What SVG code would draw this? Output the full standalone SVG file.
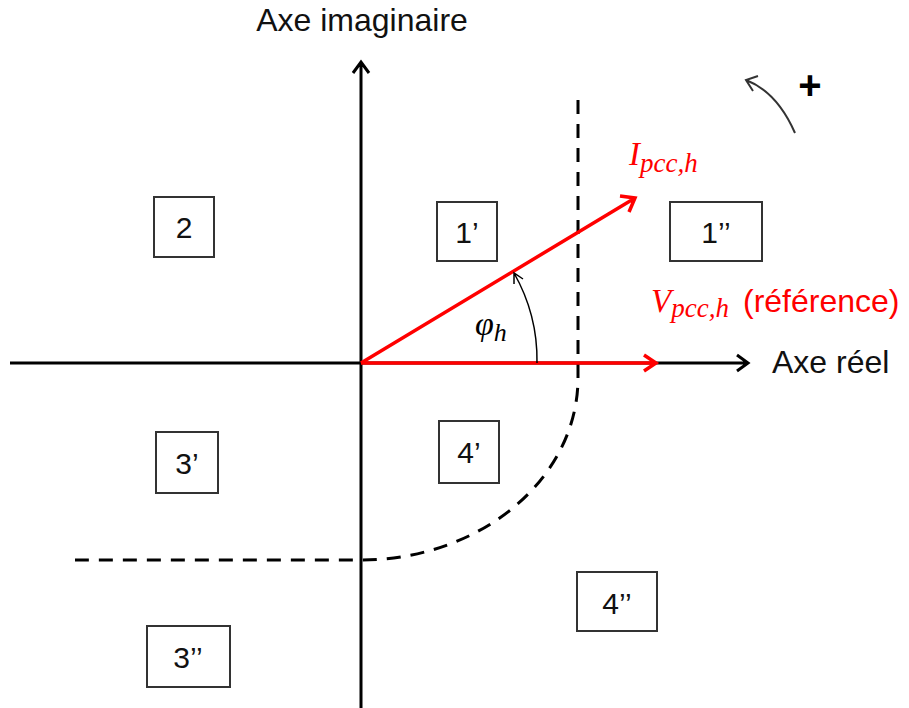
<svg xmlns="http://www.w3.org/2000/svg" width="909" height="708" viewBox="0 0 909 708">
<style>
.box{fill:#fff;stroke:#333;stroke-width:2}
.lbl{font-family:"Liberation Sans",Arial,sans-serif;font-size:30px;fill:#111;text-anchor:middle}
.axl{font-family:"Liberation Sans",Arial,sans-serif;font-size:32px;fill:#111}
.ax{stroke:#000;stroke-width:3;fill:none}
.red{stroke:#f00;stroke-width:3.5;fill:none}
.math{font-family:"Liberation Serif","DejaVu Serif",serif;font-style:italic}
</style>
<rect width="909" height="708" fill="#fff"/>
<g id="connectors">
  <path class="ax" d="M10,363 H748 M737,355 L748,363 L737,371"/>
  <path class="ax" d="M361,708 V62 M353,73 L361,62 L369,73"/>
  <path d="M578,100 V378 A217,182 0 0 1 361,560 H75" fill="none" stroke="#000" stroke-width="3" stroke-dasharray="14,10"/>
  <path class="red" d="M361,363 H656 M644,355 L656,363 L644,371"/>
  <path class="red" d="M361,363 L635,198 M620,196 L635,198 L629,212"/>
  <path d="M537,363 A176,176 0 0 0 514,273 M514,284 L514,273 L523,279" fill="none" stroke="#000" stroke-width="1.5"/>
  <path d="M795,133 Q777,92 746,80 M758,76 L746,80 L753,91" fill="none" stroke="#333" stroke-width="2"/>
</g>
<g id="axis-labels">
  <text x="362" y="31" class="axl" text-anchor="middle">Axe imaginaire</text>
  <text x="772" y="373" class="axl">Axe réel</text>
  <text x="810" y="99" font-family="Liberation Sans,Arial,sans-serif" font-size="40" font-weight="bold" fill="#000" text-anchor="middle">+</text>
</g>
<g id="vec-I">
  <text class="math" x="629" y="165" fill="#f00" font-size="33">I<tspan font-size="27" dy="7">pcc,h</tspan></text>
</g>
<g id="vec-V">
  <text class="math" x="651" y="312" fill="#f00" font-size="33">V<tspan font-size="27" dy="5">pcc,h</tspan></text>
  <text x="743" y="312" class="axl" fill="#f00" style="fill:#f00">(référence)</text>
</g>
<g id="angle">
  <text class="math" x="475" y="335" fill="#000" font-size="34">φ<tspan font-size="26" dy="6">h</tspan></text>
</g>
<g id="zone-2"><rect class="box" x="154" y="197" width="60" height="60"/><text class="lbl" x="184" y="238">2</text></g>
<g id="zone-1p"><rect class="box" x="437" y="202" width="60" height="59"/><text class="lbl" x="467" y="243">1’</text></g>
<g id="zone-1pp"><rect class="box" x="670" y="202" width="92" height="59"/><text class="lbl" x="716" y="243">1’’</text></g>
<g id="zone-3p"><rect class="box" x="156" y="432" width="62" height="61"/><text class="lbl" x="187" y="474">3’</text></g>
<g id="zone-4p"><rect class="box" x="439" y="421" width="60" height="62"/><text class="lbl" x="469" y="463">4’</text></g>
<g id="zone-3pp"><rect class="box" x="147" y="626" width="83" height="61"/><text class="lbl" x="188" y="668">3’’</text></g>
<g id="zone-4pp"><rect class="box" x="577" y="572" width="80" height="59"/><text class="lbl" x="617" y="614">4’’</text></g>
</svg>
